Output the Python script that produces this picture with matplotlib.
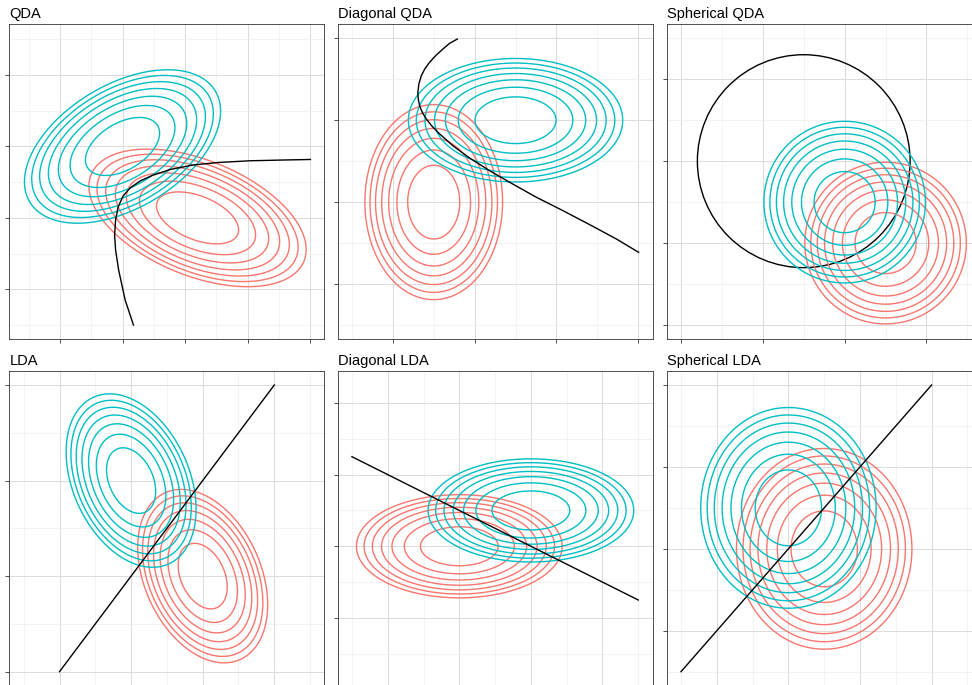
import matplotlib
matplotlib.use("Agg")
import matplotlib.pyplot as plt
from matplotlib.patches import Circle
import numpy as np

plt.rcParams['font.family'] = ['Liberation Sans', 'DejaVu Sans']

RED = '#F8766D'
CYAN = '#00BFC4'

titles = ["QDA", "Diagonal QDA", "Spherical QDA",
          "LDA", "Diagonal LDA", "Spherical LDA"]

# class centres (x, y) for each panel
red_means = [(2.2, 1.0), (0.5, 1.0), (2.5, 1.0), (2.0, 1.0), (1.0, 1.0), (1.5, 1.0)]
cyan_means = [(1.0, 2.0), (1.5, 2.0), (2.0, 1.5), (1.0, 2.0), (2.0, 1.5), (1.0, 1.5)]

# innermost contour of each class: sd_x, sd_y, correlation
red_shape = [(0.657, 0.364, -0.46), (0.318, 0.45, 0.0), (0.373, 0.373, 0.0),
             (0.343, 0.343, -0.33), (0.543, 0.272, 0.0), (0.463, 0.463, 0.0)]
cyan_shape = [(0.593, 0.406, 0.46), (0.495, 0.285, 0.0), (0.373, 0.373, 0.0),
              (0.343, 0.343, -0.33), (0.543, 0.272, 0.0), (0.463, 0.463, 0.0)]

# squared mahalanobis distance of the contour lines
levels = [1, 2, 3, 4, 5, 6, 7]

# decision boundaries
qda_bx = [1.175, 1.042, 0.938, 0.889, 0.873, 0.889, 0.929, 1.010, 1.122, 1.282,
          1.474, 1.763, 2.131, 2.532, 3.045, 3.606, 4.006]
qda_by = [-0.5, -0.150, 0.270, 0.550, 0.760, 0.970, 1.153, 1.307, 1.419, 1.517,
          1.594, 1.678, 1.741, 1.776, 1.800, 1.811, 1.818]
dqda_bx = [0.788, 0.694, 0.612, 0.531, 0.449, 0.392, 0.348, 0.318, 0.306, 0.311,
           0.327, 0.360, 0.409, 0.474, 0.551, 0.734, 0.939, 1.184, 1.428, 1.755,
           2.081, 2.408, 2.734, 3.004]
dqda_by = [2.991, 2.939, 2.869, 2.796, 2.707, 2.629, 2.543, 2.442, 2.341, 2.259,
           2.177, 2.096, 2.015, 1.933, 1.852, 1.689, 1.538, 1.383, 1.242, 1.059,
           0.895, 0.724, 0.549, 0.387]
sqda_centre = (1.5, 2.0)
sqda_radius = 1.30
lda_bx = [0.0, 3.0]
lda_by = [0.0, 3.0]
dlda_bx = [-0.5, 3.5]
dlda_by = [2.25, 0.25]
slda_bx = [-0.5, 3.0]
slda_by = [-0.5, 3.0]

boundaries = [(qda_bx, qda_by), (dqda_bx, dqda_by), None,
              (lda_bx, lda_by), (dlda_bx, dlda_by), (slda_bx, slda_by)]

# axis ranges
xlims = [(-0.81, 4.23), (-0.675, 3.175), (-0.175, 3.675),
         (-0.7, 3.7), (-0.7, 3.7), (-0.7, 3.7)]
ylims = [(-0.70, 3.715), (-0.675, 3.175), (-0.175, 3.675),
         (-0.15, 3.15), (-0.95, 3.45), (-0.675, 3.175)]
xticks = [[0, 1, 2, 3, 4], [0, 1, 2, 3], [0, 1, 2, 3], [0, 1, 2, 3], [0, 1, 2, 3], [0, 1, 2, 3]]
yticks = [[0, 1, 2, 3]] * 6

W, H = 972, 685
col_left = [9.4, 337.6, 666.7]
row_top = [24.0, 370.7]
pw, ph = 315.0, 315.3


def mahal(xx, yy, mean, shape):
    sx, sy, rho = shape
    cov = np.array([[sx * sx, rho * sx * sy], [rho * sx * sy, sy * sy]])
    inv = np.linalg.inv(cov)
    dx = xx - mean[0]
    dy = yy - mean[1]
    return inv[0, 0] * dx * dx + 2 * inv[0, 1] * dx * dy + inv[1, 1] * dy * dy


def minor_between(ticks, lim):
    vals = []
    for t in range(len(ticks) + 1):
        if t == 0:
            v = ticks[0] - 0.5 * (ticks[1] - ticks[0])
        elif t == len(ticks):
            v = ticks[-1] + 0.5 * (ticks[1] - ticks[0])
        else:
            v = 0.5 * (ticks[t - 1] + ticks[t])
        if lim[0] < v < lim[1]:
            vals.append(v)
    return vals


fig = plt.figure(figsize=(W / 100, H / 100), dpi=100)

for i in range(6):
    row, col = divmod(i, 3)
    ax = fig.add_axes([col_left[col] / W, 1 - (row_top[row] + ph) / H, pw / W, ph / H])
    ax.set_xlim(xlims[i])
    ax.set_ylim(ylims[i])

    ax.set_xticks(xticks[i])
    ax.set_yticks(yticks[i])
    ax.set_xticks(minor_between(xticks[i], xlims[i]), minor=True)
    ax.set_yticks(minor_between(yticks[i], ylims[i]), minor=True)
    ax.tick_params(which='major', length=2.8, width=0.6, color='#333333',
                   labelleft=False, labelbottom=False)
    ax.tick_params(which='minor', length=0)
    ax.set_axisbelow(True)
    ax.grid(which='major', color='#DCDCDC', lw=0.75)
    ax.grid(which='minor', color='#EEEEEE', lw=0.5)
    for sp in ax.spines.values():
        sp.set_color('#333333')
        sp.set_linewidth(0.6)

    xs = np.linspace(xlims[i][0], xlims[i][1], 600)
    ys = np.linspace(ylims[i][0], ylims[i][1], 600)
    xx, yy = np.meshgrid(xs, ys)
    ax.contour(xx, yy, mahal(xx, yy, red_means[i], red_shape[i]),
               levels=levels, colors=RED, linewidths=1.0)
    ax.contour(xx, yy, mahal(xx, yy, cyan_means[i], cyan_shape[i]),
               levels=levels, colors=CYAN, linewidths=1.0)

    if boundaries[i] is None:
        ax.add_patch(Circle(sqda_centre, sqda_radius, fill=False, ec='black', lw=1.0))
    else:
        ax.plot(boundaries[i][0], boundaries[i][1], color='black', lw=1.0,
                solid_joinstyle='round')

    ax.set_title(titles[i], loc='left', fontsize=10.5, pad=4)

fig.savefig("out.png", dpi=100)
